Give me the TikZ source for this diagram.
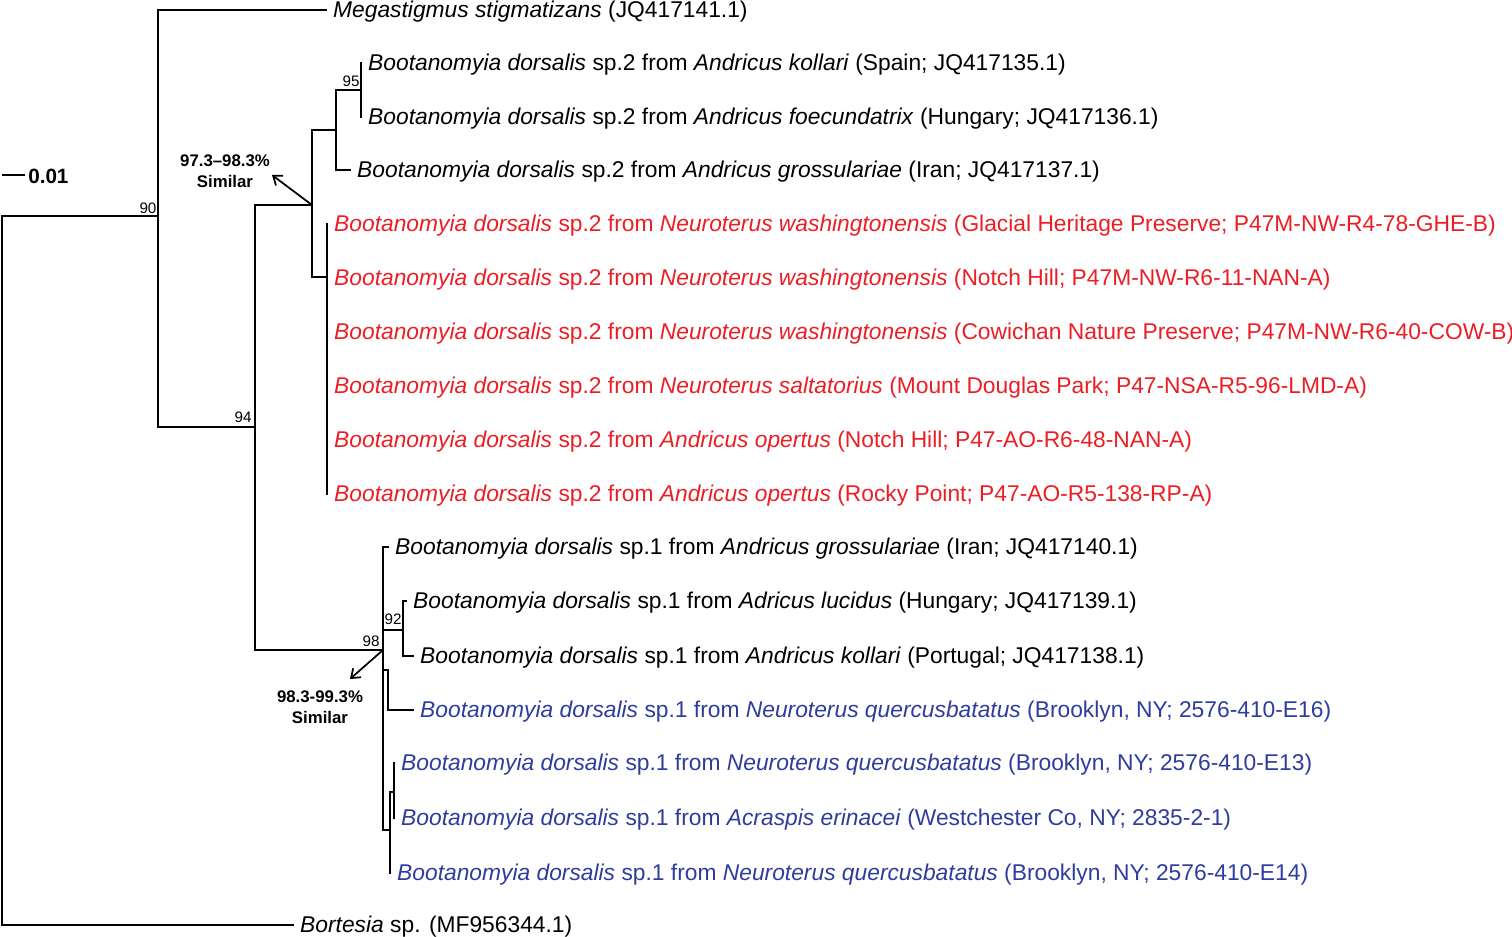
\documentclass[tikz,border=0pt]{standalone}
\usepackage{fontspec}
\setmainfont{Liberation Sans}
\usetikzlibrary{arrows.meta}
\definecolor{treered}{RGB}{236,30,36}
\definecolor{treeblue}{RGB}{46,60,158}
\newcommand{\bd}{\textit{Bootanomyia dorsalis}}
\tikzset{
  br/.style={line width=1.9pt,line cap=rect},
  leaf/.style={anchor=west,inner xsep=5.2pt,inner ysep=0pt,
               font=\fontsize{17.1}{18}\selectfont,
               text height=1.25em,text depth=0.12em},
  boot/.style={font=\fontsize{11.4}{12}\selectfont,inner sep=0pt},
  simtxt/.style={font=\fontsize{12.6}{15.5}\selectfont\bfseries,
                 align=center,inner sep=0pt},
  sarr/.style={line width=1.3pt,-{Straight Barb[length=6pt,width=9pt]}},
}
\begin{document}
\begin{tikzpicture}[x=0.75pt,y=-0.75pt]
  \useasboundingbox (0,0) rectangle (1512,937);
  % internal nodes of the tree
  \coordinate (root) at (2,570);
  \coordinate (n90) at (158,216);
  \coordinate (n94) at (255,427);
  \coordinate (nsp2) at (312,205);
  \coordinate (nold) at (336,130);
  \coordinate (n95) at (361,90);
  \coordinate (nred) at (327,277);
  \coordinate (n98) at (383,650);
  \coordinate (n92) at (403,630);
  \coordinate (nq16) at (388,670);
  \coordinate (nlow) at (390,830);
  \coordinate (nacr) at (394,792);

  % tips
  \node[leaf] (meg) at (326,10) {\textit{Megastigmus stigmatizans} (JQ417141.1)};
  \node[leaf] (kol2) at (361,63) {\bd{} sp.2 from \textit{Andricus kollari} (Spain; JQ417135.1)};
  \node[leaf] (foe) at (361,117) {\bd{} sp.2 from \textit{Andricus foecundatrix} (Hungary; JQ417136.1)};
  \node[leaf] (gro2) at (350,170) {\bd{} sp.2 from \textit{Andricus grossulariae} (Iran; JQ417137.1)};
  \begin{scope}[every node/.append style={text=treered}]
    \node[leaf] (ghe) at (327,224) {\bd{} sp.2 from \textit{Neuroterus washingtonensis} (Glacial Heritage Preserve; P47M-NW-R4-78-GHE-B)};
    \node[leaf] (nan1) at (327,278) {\bd{} sp.2 from \textit{Neuroterus washingtonensis} (Notch Hill; P47M-NW-R6-11-NAN-A)};
    \node[leaf] (cow) at (327,332) {\bd{} sp.2 from \textit{Neuroterus washingtonensis} (Cowichan Nature Preserve; P47M-NW-R6-40-COW-B)};
    \node[leaf] (lmd) at (327,386) {\bd{} sp.2 from \textit{Neuroterus saltatorius} (Mount Douglas Park; P47-NSA-R5-96-LMD-A)};
    \node[leaf] (nan2) at (327,440) {\bd{} sp.2 from \textit{Andricus opertus} (Notch Hill; P47-AO-R6-48-NAN-A)};
    \node[leaf] (rp) at (327,494) {\bd{} sp.2 from \textit{Andricus opertus} (Rocky Point; P47-AO-R5-138-RP-A)};
  \end{scope}
  \node[leaf] (gro1) at (388,547) {\bd{} sp.1 from \textit{Andricus grossulariae} (Iran; JQ417140.1)};
  \node[leaf] (luc) at (406,601) {\bd{} sp.1 from \textit{Adricus lucidus} (Hungary; JQ417139.1)};
  \node[leaf] (kol1) at (413,656) {\bd{} sp.1 from \textit{Andricus kollari} (Portugal; JQ417138.1)};
  \begin{scope}[every node/.append style={text=treeblue}]
    \node[leaf] (e16) at (413,710) {\bd{} sp.1 from \textit{Neuroterus quercusbatatus} (Brooklyn, NY; 2576-410-E16)};
    \node[leaf] (e13) at (394,763) {\bd{} sp.1 from \textit{Neuroterus quercusbatatus} (Brooklyn, NY; 2576-410-E13)};
    \node[leaf] (acr) at (394,818) {\bd{} sp.1 from \textit{Acraspis erinacei} (Westchester Co, NY; 2835-2-1)};
    \node[leaf] (e14) at (390,873) {\bd{} sp.1 from \textit{Neuroterus quercusbatatus} (Brooklyn, NY; 2576-410-E14)};
  \end{scope}
  \node[leaf] (bort) at (293,925) {\textit{Bortesia} sp. (MF956344.1)};

  % branches
  \draw[br] (root) |- (n90);
  \draw[br] (root) |- (bort.west);
  \draw[br] (n90) |- (meg.west);
  \draw[br] (n90) |- (n94);
  \draw[br] (n94) |- (nsp2);
  \draw[br] (n94) |- (n98);
  \draw[br] (nsp2) |- (nold);
  \draw[br] (nsp2) |- (nred);
  \draw[br] (nold) |- (n95);
  \draw[br] (nold) |- (gro2.west);
  \draw[br] (n95) |- (kol2.west);
  \draw[br] (n95) |- (foe.west);
  \foreach \t in {ghe,nan1,cow,lmd,nan2,rp}
    \draw[br] (nred) |- (\t.west);
  \draw[br] (n98) |- (gro1.west);
  \draw[br] (n98) |- (n92);
  \draw[br] (n98) |- (nq16);
  \draw[br] (n98) |- (nlow);
  \draw[br] (n92) |- (luc.west);
  \draw[br] (n92) |- (kol1.west);
  \draw[br] (nq16) |- (e16.west);
  \draw[br] (nlow) |- (nacr);
  \draw[br] (nlow) |- (e14.west);
  \draw[br] (nacr) |- (e13.west);
  \draw[br] (nacr) |- (acr.west);

  % bootstrap values
  \node[boot] (b90) at (148,208) {90};
  \node[boot] (b94) at (243,417) {94};
  \node[boot] (b95) at (351,81) {95};
  \node[boot] (b92) at (393,619) {92};
  \node[boot] (b98) at (371,641) {98};

  % similarity notes
  \coordinate (tip1) at (272,175);
  \coordinate (tip2) at (350,679);
  \draw[sarr] (nsp2) -- (tip1);
  \draw[sarr] (n98) -- (tip2);
  \node[simtxt] (sim1) at (225,171) {97.3--98.3\%\\Similar};
  \node[simtxt] (sim2) at (320,707) {98.3-99.3\%\\Similar};

  % scale bar
  \coordinate (sb) at (25,175);
  \draw[line width=1.2pt] (2,175) -- (sb);
  \node[anchor=west,inner sep=0pt,font=\fontsize{15.5}{16}\selectfont\bfseries] (sbl) at (28,176) {0.01};
\end{tikzpicture}
\end{document}
